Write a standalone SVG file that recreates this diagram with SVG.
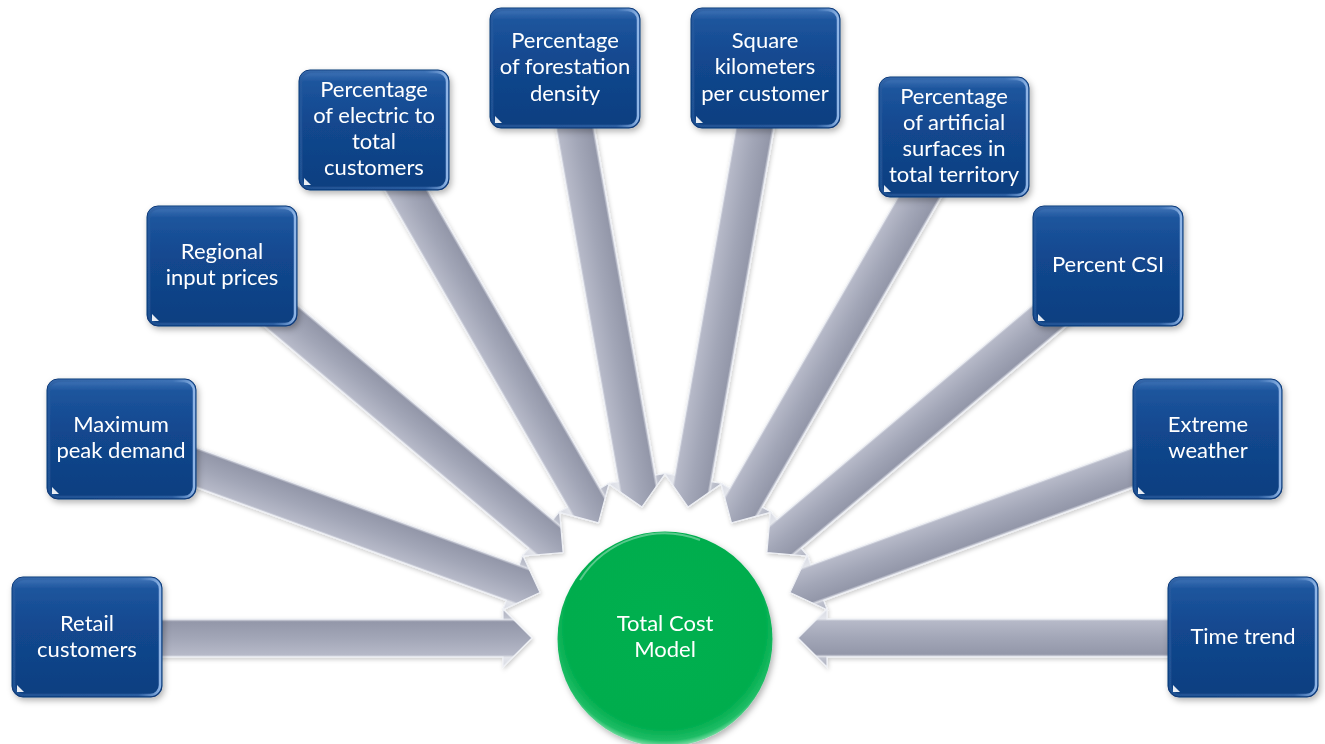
<svg xmlns="http://www.w3.org/2000/svg" width="1325" height="744" viewBox="0 0 1325 744">
<style>
.box{fill:url(#boxGrad);stroke:#0b3877;stroke-width:1}
.bev{fill:none;stroke:url(#bevGrad);stroke-width:2.5}
.glint{fill:#ffffff;opacity:0.9}
.lbl{font-family:Lato,"Open Sans","Liberation Sans",sans-serif;font-size:22px;fill:#ffffff;text-anchor:middle}
.arr{fill:url(#arrGrad);stroke:#eef0f5;stroke-width:1.2;stroke-linejoin:miter}
</style>
<defs>
<linearGradient id="boxGrad" x1="0" y1="0" x2="0" y2="1">
<stop offset="0" stop-color="#4276b9"/>
<stop offset="0.1" stop-color="#1d559d"/>
<stop offset="0.45" stop-color="#12478e"/>
<stop offset="1" stop-color="#0e3f80"/>
</linearGradient>
<linearGradient id="bevGrad" x1="0" y1="0" x2="1" y2="0">
<stop offset="0" stop-color="#2a5c9e" stop-opacity="0.6"/>
<stop offset="0.85" stop-color="#3b70b4" stop-opacity="0.6"/>
<stop offset="1" stop-color="#8fb5e6"/>
</linearGradient>
<linearGradient id="arrGrad" gradientUnits="userSpaceOnUse" x1="0" y1="-29" x2="0" y2="29">
<stop offset="0" stop-color="#d9dbe3"/>
<stop offset="0.17" stop-color="#e4e6ec"/>
<stop offset="0.21" stop-color="#b6b9c8"/>
<stop offset="0.5" stop-color="#a2a6b7"/>
<stop offset="0.78" stop-color="#9397a9"/>
<stop offset="0.82" stop-color="#dcdee6"/>
<stop offset="0.85" stop-color="#bfc2ce"/>
<stop offset="1" stop-color="#aeb1bf"/>
</linearGradient>
<radialGradient id="circGrad" cx="0.5" cy="0.45" r="0.55">
<stop offset="0" stop-color="#00b04f"/>
<stop offset="0.85" stop-color="#00ad4e"/>
<stop offset="0.95" stop-color="#1fbd66"/>
<stop offset="1" stop-color="#7fe0a8"/>
</radialGradient>
<filter id="shadow" x="-20%" y="-20%" width="140%" height="140%">
<feDropShadow dx="2" dy="3" stdDeviation="3" flood-color="#000000" flood-opacity="0.3"/>
</filter>
<filter id="ashadow" x="-10%" y="-20%" width="120%" height="140%">
<feDropShadow dx="1" dy="2" stdDeviation="2" flood-color="#000000" flood-opacity="0.2"/>
</filter>
<path id="arrow" d="M133,0 L162,-29 L162,-19 L560,-19 L560,19 L162,19 L162,29 Z"/>
</defs>
<rect width="1325" height="744" fill="#ffffff"/>
<g id="connectors" filter="url(#ashadow)">
<use href="#arrow" class="arr" transform="translate(665,638) rotate(180)"/>
<use href="#arrow" class="arr" transform="translate(665,638) rotate(-160)"/>
<use href="#arrow" class="arr" transform="translate(665,638) rotate(-140)"/>
<use href="#arrow" class="arr" transform="translate(665,638) rotate(-120)"/>
<use href="#arrow" class="arr" transform="translate(665,638) rotate(-100)"/>
<use href="#arrow" class="arr" transform="translate(665,638) rotate(-80)"/>
<use href="#arrow" class="arr" transform="translate(665,638) rotate(-60)"/>
<use href="#arrow" class="arr" transform="translate(665,638) rotate(-40)"/>
<use href="#arrow" class="arr" transform="translate(665,638) rotate(-20)"/>
<use href="#arrow" class="arr" transform="translate(665,638) rotate(0)"/>
</g>
<g id="node-retail" filter="url(#shadow)">
<rect class="box" x="12" y="577" width="150" height="120" rx="11"/>
<rect class="bev" x="14" y="579" width="146" height="116" rx="10"/>
<polygon class="glint" points="17,692 17,685 24,692"/>
<text class="lbl" x="87" y="631">Retail</text>
<text class="lbl" x="87" y="657">customers</text>
</g>
<g id="node-peak" filter="url(#shadow)">
<rect class="box" x="47" y="379" width="149" height="120" rx="11"/>
<rect class="bev" x="49" y="381" width="145" height="116" rx="10"/>
<polygon class="glint" points="52,494 52,487 59,494"/>
<text class="lbl" x="121" y="432">Maximum</text>
<text class="lbl" x="121" y="458">peak demand</text>
</g>
<g id="node-regional" filter="url(#shadow)">
<rect class="box" x="147" y="206" width="150" height="120" rx="11"/>
<rect class="bev" x="149" y="208" width="146" height="116" rx="10"/>
<polygon class="glint" points="152,321 152,314 159,321"/>
<text class="lbl" x="222" y="259">Regional</text>
<text class="lbl" x="222" y="285">input prices</text>
</g>
<g id="node-electric" filter="url(#shadow)">
<rect class="box" x="299" y="70" width="150" height="120" rx="11"/>
<rect class="bev" x="301" y="72" width="146" height="116" rx="10"/>
<polygon class="glint" points="304,185 304,178 311,185"/>
<text class="lbl" x="374" y="97">Percentage</text>
<text class="lbl" x="374" y="123">of electric to</text>
<text class="lbl" x="374" y="149">total</text>
<text class="lbl" x="374" y="175">customers</text>
</g>
<g id="node-forestation" filter="url(#shadow)">
<rect class="box" x="490" y="8" width="150" height="120" rx="11"/>
<rect class="bev" x="492" y="10" width="146" height="116" rx="10"/>
<polygon class="glint" points="495,123 495,116 502,123"/>
<text class="lbl" x="565" y="48">Percentage</text>
<text class="lbl" x="565" y="74">of forestation</text>
<text class="lbl" x="565" y="101">density</text>
</g>
<g id="node-square" filter="url(#shadow)">
<rect class="box" x="691" y="8" width="149" height="120" rx="11"/>
<rect class="bev" x="693" y="10" width="145" height="116" rx="10"/>
<polygon class="glint" points="696,123 696,116 703,123"/>
<text class="lbl" x="765" y="48">Square</text>
<text class="lbl" x="765" y="74">kilometers</text>
<text class="lbl" x="765" y="101">per customer</text>
</g>
<g id="node-artificial" filter="url(#shadow)">
<rect class="box" x="879" y="77" width="150" height="120" rx="11"/>
<rect class="bev" x="881" y="79" width="146" height="116" rx="10"/>
<polygon class="glint" points="884,192 884,185 891,192"/>
<text class="lbl" x="954" y="104">Percentage</text>
<text class="lbl" x="954" y="130">of artificial</text>
<text class="lbl" x="954" y="156">surfaces in</text>
<text class="lbl" x="954" y="182">total territory</text>
</g>
<g id="node-csi" filter="url(#shadow)">
<rect class="box" x="1033" y="206" width="150" height="120" rx="11"/>
<rect class="bev" x="1035" y="208" width="146" height="116" rx="10"/>
<polygon class="glint" points="1038,321 1038,314 1045,321"/>
<text class="lbl" x="1108" y="272">Percent CSI</text>
</g>
<g id="node-weather" filter="url(#shadow)">
<rect class="box" x="1133" y="379" width="149" height="120" rx="11"/>
<rect class="bev" x="1135" y="381" width="145" height="116" rx="10"/>
<polygon class="glint" points="1138,494 1138,487 1145,494"/>
<text class="lbl" x="1208" y="432">Extreme</text>
<text class="lbl" x="1208" y="458">weather</text>
</g>
<g id="node-time" filter="url(#shadow)">
<rect class="box" x="1168" y="577" width="150" height="120" rx="11"/>
<rect class="bev" x="1170" y="579" width="146" height="116" rx="10"/>
<polygon class="glint" points="1173,692 1173,685 1180,692"/>
<text class="lbl" x="1243" y="644">Time trend</text>
</g>
<g id="node-total" filter="url(#shadow)">
<circle cx="665" cy="639" r="107.5" fill="url(#circGrad)"/>
<path d="M580,580 A100,100 0 0 1 700,540" fill="none" stroke="#ffffff" stroke-opacity="0.35" stroke-width="2"/>
<text class="lbl" x="665" y="631">Total Cost</text>
<text class="lbl" x="665" y="657">Model</text>
</g>
</svg>
